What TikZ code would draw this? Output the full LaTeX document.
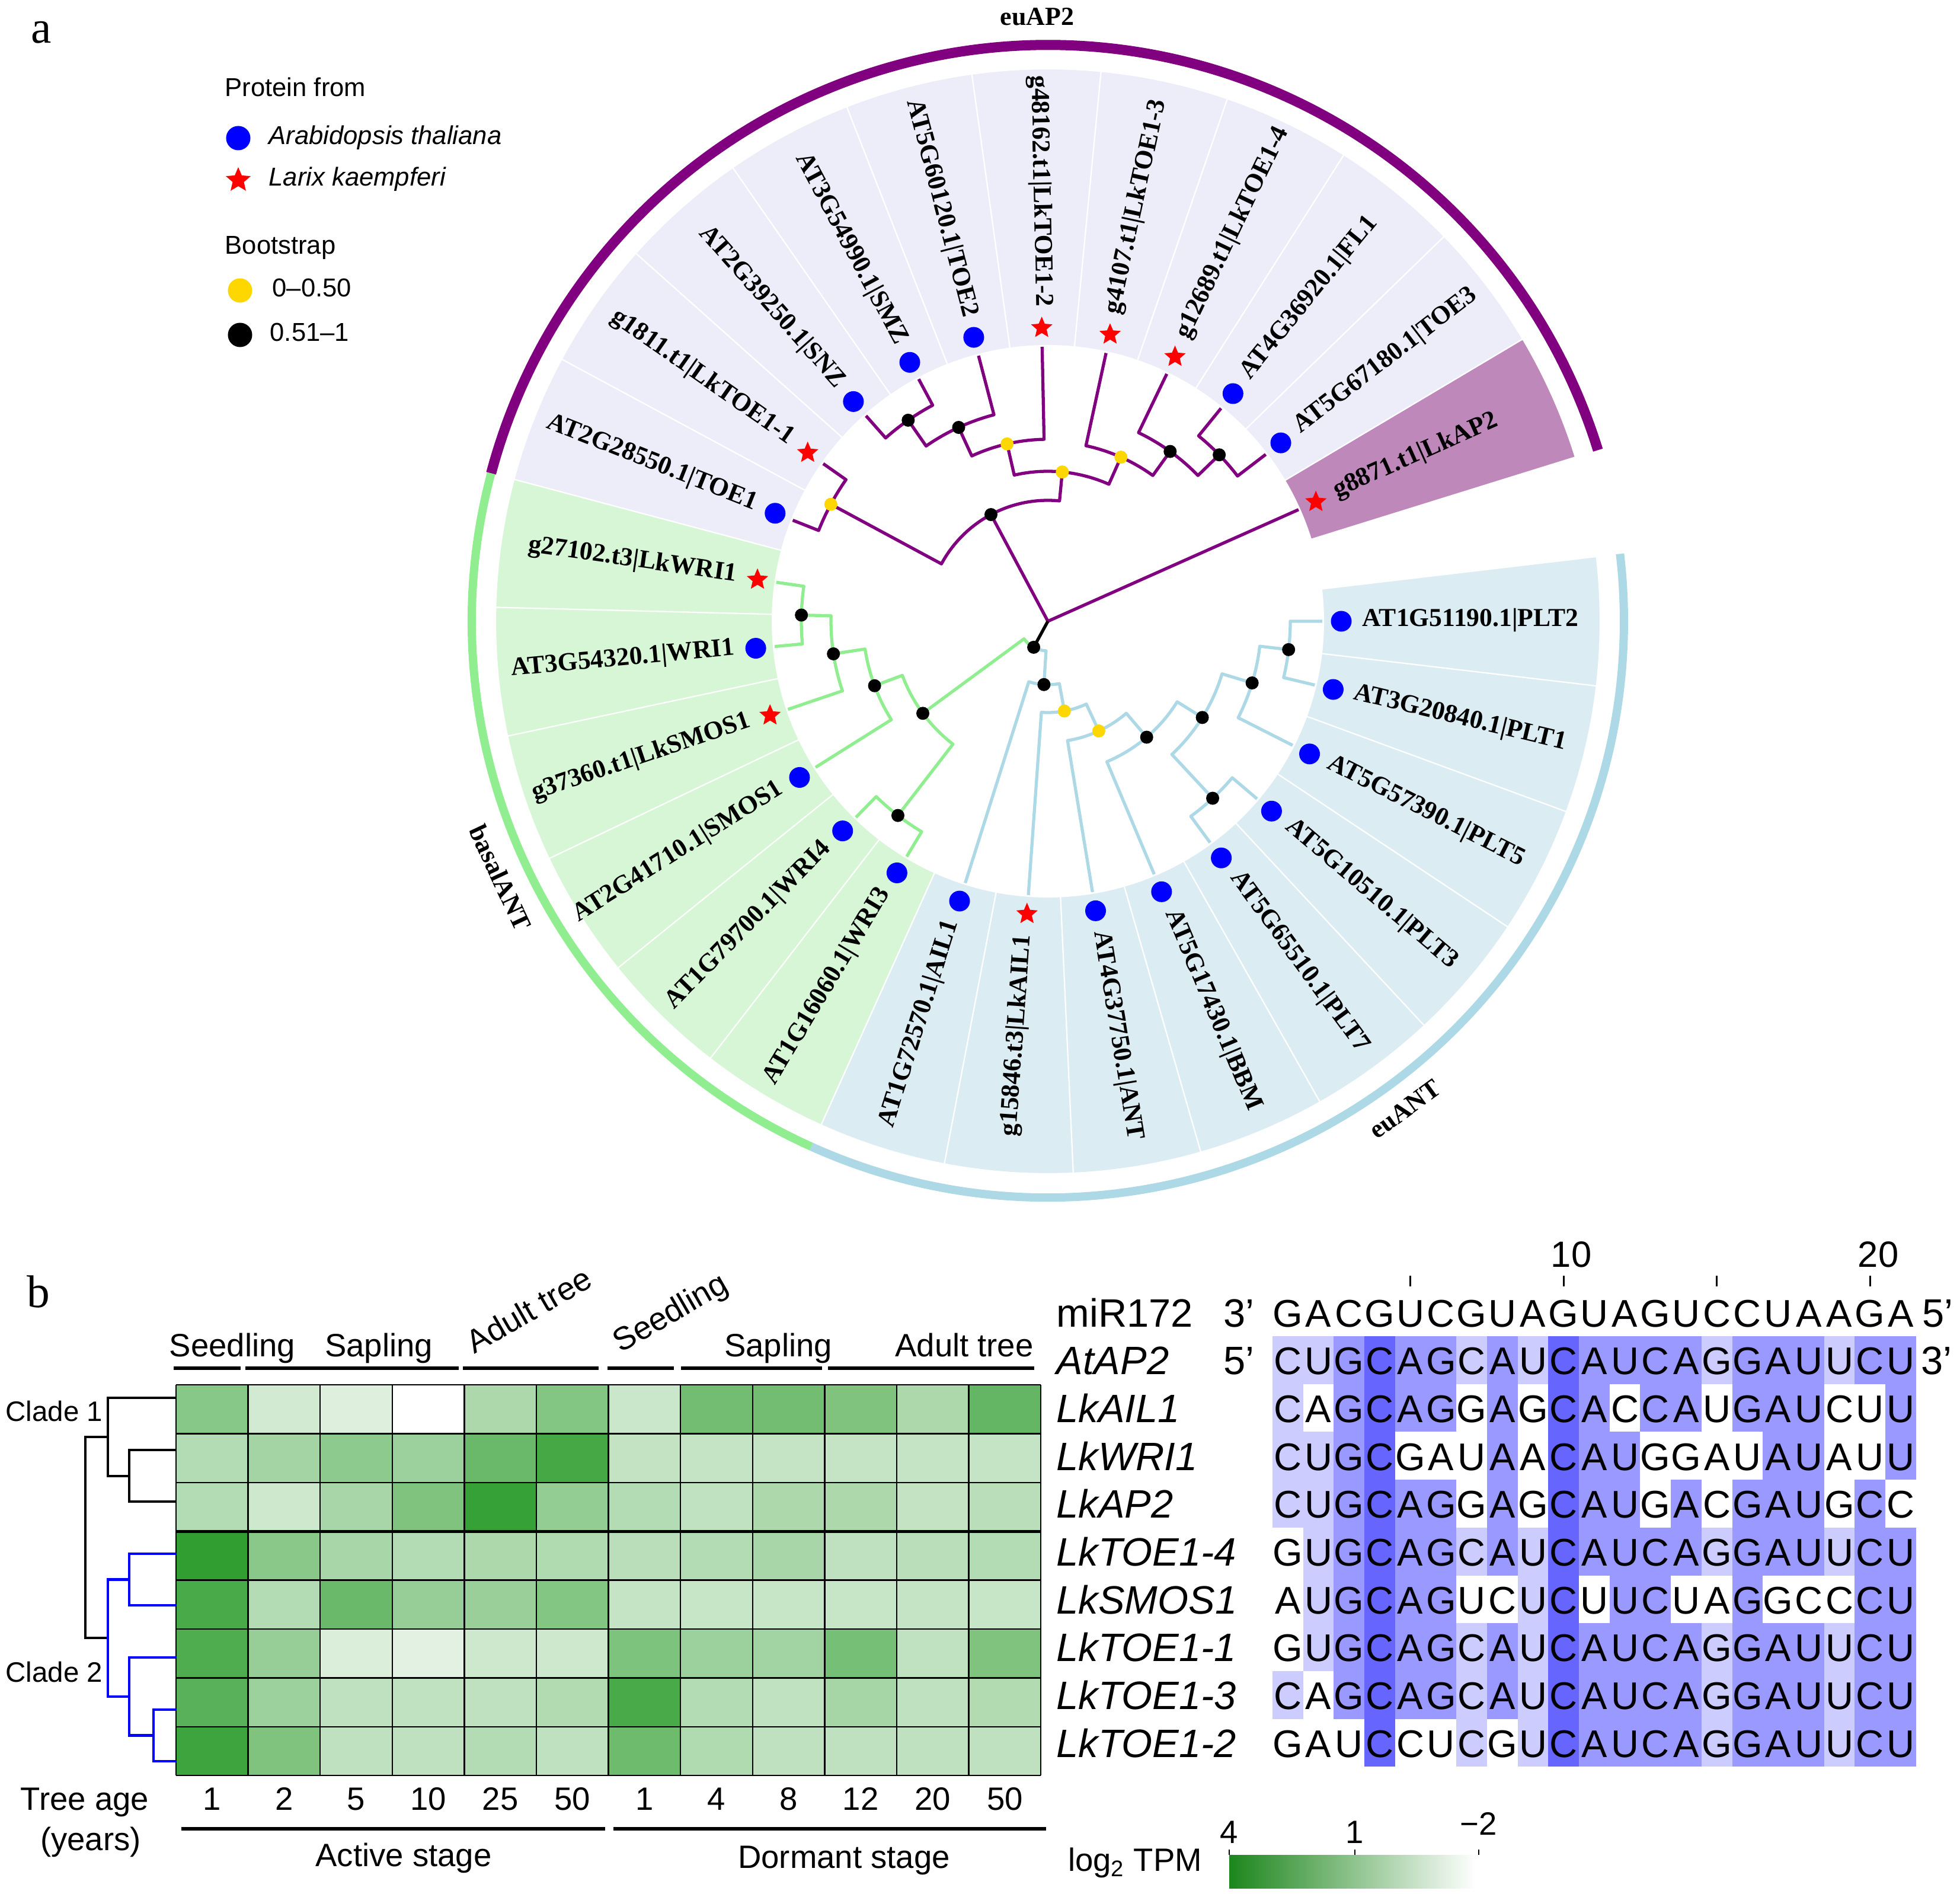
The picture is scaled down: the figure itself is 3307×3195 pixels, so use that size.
\documentclass[tikz,border=0pt]{standalone}
\usepackage{fontspec}
\setmainfont{Liberation Serif}
\setsansfont{Liberation Sans}
\usepackage{tikz}
\usetikzlibrary{shapes.geometric,positioning}
\definecolor{apcol}{RGB}{128,0,128}
\definecolor{basalcol}{RGB}{144,238,144}
\definecolor{eucol}{RGB}{173,216,230}
\definecolor{apbg}{RGB}{237,237,250}
\definecolor{basalbg}{RGB}{214,246,214}
\definecolor{eubg}{RGB}{220,236,243}
\definecolor{lkapbg}{RGB}{191,136,187}
\definecolor{bootlow}{RGB}{255,215,0}
\definecolor{hmdark}{RGB}{48,158,48}
\definecolor{cbdark}{RGB}{28,134,28}
\definecolor{cbmid}{RGB}{128,198,128}
\definecolor{alnL}{RGB}{204,204,255}
\definecolor{alnM}{RGB}{153,153,255}
\definecolor{alnD}{RGB}{102,102,255}
\definecolor{alnW}{RGB}{255,255,255}

\begin{document}
\begin{tikzpicture}[x=0.01cm, y=0.01cm,
  atdot/.style={circle, fill=blue, inner sep=0pt, minimum size=0.35cm},
  lkstar/.style={star, star points=5, star point ratio=2.2, fill=red, inner sep=0pt, minimum size=0.38cm},
  bsblack/.style={circle, fill=black, inner sep=0pt, minimum size=0.22cm},
  bsyellow/.style={circle, fill=bootlow, inner sep=0pt, minimum size=0.22cm},
  leaflab/.style={font=\fontsize{12.4}{14}\selectfont\bfseries, inner sep=0pt},
  cladelab/.style={font=\fontsize{12.5}{14}\selectfont\bfseries, inner sep=0pt},
  legtext/.style={font=\sffamily\fontsize{12.4}{14}\selectfont, inner sep=0pt, anchor=base west},
  legit/.style={font=\sffamily\itshape\fontsize{12.4}{14}\selectfont, inner sep=0pt, anchor=base west},
  hmtext/.style={font=\sffamily\fontsize{15.5}{18}\selectfont, inner sep=0pt, anchor=base},
  alntext/.style={font=\sffamily\fontsize{19}{22}\selectfont, inner sep=0pt, anchor=base},
  seqtext/.style={font=\sffamily\fontsize{18.5}{22}\selectfont, inner sep=0pt, anchor=base},
  branch/.style={line width=1.5pt, line join=round},
  dendro/.style={line width=1.2pt, line join=miter},
  hmline/.style={line width=0.7pt},
  bar/.style={line width=1.5pt}]
\useasboundingbox (0,0) rectangle (3307,-3195);

\node[font=\fontsize{22}{26}\selectfont, anchor=base west, inner sep=0pt] (panela) at (52,-73) {a};
\node[font=\fontsize{22}{26}\selectfont, anchor=base west, inner sep=0pt] (panelb) at (45,-2205) {b};

\node[legtext] (legprot) at (379,-163) {Protein from};
\node[atdot, minimum size=0.41cm] (legat) at (402,-233) {};
\node[legit] (legattext) at (453,-244) {Arabidopsis thaliana};
\node[lkstar, minimum size=0.44cm] (leglk) at (402,-304) {};
\node[legit] (leglktext) at (453,-314) {Larix kaempferi};
\node[legtext] (legboot) at (379,-429) {Bootstrap};
\node[bsyellow, minimum size=0.41cm] (leglow) at (405,-490) {};
\node[legtext] (leglowtext) at (459,-501) {0--0.50};
\node[bsblack, minimum size=0.41cm] (leghigh) at (405,-565) {};
\node[legtext] (leghightext) at (455,-576) {0.51--1};

\begin{scope}[shift={(1768,-1048)}]
\foreach \i/\bg/\at/\lab in {0/lkapbg/0/g8871.t1|LkAP2, 1/apbg/1/AT5G67180.1|TOE3, 2/apbg/1/AT4G36920.1|FL1,
  3/apbg/0/g12689.t1|LkTOE1-4, 4/apbg/0/g4107.t1|LkTOE1-3, 5/apbg/0/g48162.t1|LkTOE1-2,
  6/apbg/1/AT5G60120.1|TOE2, 7/apbg/1/AT3G54990.1|SMZ, 8/apbg/1/AT2G39250.1|SNZ,
  9/apbg/0/g1811.t1|LkTOE1-1, 10/apbg/1/AT2G28550.1|TOE1, 11/basalbg/0/g27102.t3|LkWRI1,
  12/basalbg/1/AT3G54320.1|WRI1, 13/basalbg/0/g37360.t1|LkSMOS1, 14/basalbg/1/AT2G41710.1|SMOS1,
  15/basalbg/1/AT1G79700.1|WRI4, 16/basalbg/1/AT1G16060.1|WRI3, 17/eubg/1/AT1G72570.1|AIL1,
  18/eubg/0/g15846.t3|LkAIL1, 19/eubg/1/AT4G37750.1|ANT, 20/eubg/1/AT5G17430.1|BBM,
  21/eubg/1/AT5G65510.1|PLT7, 22/eubg/1/AT5G10510.1|PLT3, 23/eubg/1/AT5G57390.1|PLT5,
  24/eubg/1/AT3G20840.1|PLT1, 25/eubg/1/AT1G51190.1|PLT2} {
  \pgfmathsetmacro\a{24+13.44*\i}
  \fill[fill=\bg, draw=white, line width=0.6pt] (\a-6.72:465) arc[start angle=\a-6.72, end angle=\a+6.72, radius=465]
    -- (\a+6.72:932) arc[start angle=\a+6.72, end angle=\a-6.72, radius=932] -- cycle;
  \coordinate (tip\i) at (\a:463);
  \ifnum\at=1 \node[atdot] (mark\i) at (\a:495) {}; \else \node[lkstar] (mark\i) at (\a:495) {}; \fi
  \pgfmathtruncatemacro\flip{(\a>90)&&(\a<270)}
  \ifnum\flip=1
    \node[leaflab, rotate=\a+180, anchor=mid east] (lab\i) at (\a:530) {\lab};
  \else
    \node[leaflab, rotate=\a, anchor=mid west] (lab\i) at (\a:530) {\lab};
  \fi
}

\draw[apcol, line width=0.17cm] (17.28:972) arc[start angle=17.28, end angle=165.12, radius=972];
\draw[basalcol, line width=0.14cm] (165.12:972) arc[start angle=165.12, end angle=245.76, radius=972];
\draw[eucol, line width=0.14cm] (245.76:972) arc[start angle=245.76, end angle=366.72, radius=972];
\node[cladelab] (ringap) at (91:1020) {euAP2};
\node[cladelab, rotate=-64.9] (ringbasal) at (205.1:1020) {basalANT};
\node[cladelab, rotate=36.2] (ringeu) at (306.2:1020) {euANT};

\coordinate (root) at (0,0);
\coordinate (nA) at (118.08:204);
\coordinate (nB) at (84.48:253);
\coordinate (nC) at (102.96:307);
\coordinate (nD) at (114.72:360);
\coordinate (nE) at (124.8:413);
\coordinate (nF) at (66:303);
\coordinate (nG) at (54.24:353);
\coordinate (nH) at (44.16:403);
\coordinate (nP) at (151.68:416);
\coordinate (nANT) at (241.4:50);
\coordinate (nW1) at (178.56:416);
\coordinate (nW2) at (188.64:366);
\coordinate (nW3) at (200.4:312);
\coordinate (nW4) at (232.32:414);
\coordinate (nW5) at (216.36:262);
\coordinate (nU1) at (266.45:107);
\coordinate (nU2) at (280.41:154);
\coordinate (nU3) at (294.9:204);
\coordinate (nU4) at (310.44:257);
\coordinate (nU5) at (328.08:307);
\coordinate (nU6) at (312.96:408);
\coordinate (nU7) at (343.2:360);
\coordinate (nU8) at (353.28:409);

\draw[branch, apcol] (root) -- (nA);
\draw[branch, apcol] (root) -- (tip0);
\draw[branch, apcol] (nA) arc[start angle=118.08, end angle=84.48, radius=204] -- (nB);
\draw[branch, apcol] (nA) arc[start angle=118.08, end angle=151.68, radius=204] -- (nP);
\draw[branch, apcol] (nB) arc[start angle=84.48, end angle=102.96, radius=253] -- (nC);
\draw[branch, apcol] (nB) arc[start angle=84.48, end angle=66, radius=253] -- (nF);
\draw[branch, apcol] (nC) arc[start angle=102.96, end angle=91.2, radius=307] -- (tip5);
\draw[branch, apcol] (nC) arc[start angle=102.96, end angle=114.72, radius=307] -- (nD);
\draw[branch, apcol] (nD) arc[start angle=114.72, end angle=104.64, radius=360] -- (tip6);
\draw[branch, apcol] (nD) arc[start angle=114.72, end angle=124.8, radius=360] -- (nE);
\draw[branch, apcol] (nE) arc[start angle=124.8, end angle=118.08, radius=413] -- (tip7);
\draw[branch, apcol] (nE) arc[start angle=124.8, end angle=131.52, radius=413] -- (tip8);
\draw[branch, apcol] (nF) arc[start angle=66, end angle=77.76, radius=303] -- (tip4);
\draw[branch, apcol] (nF) arc[start angle=66, end angle=54.24, radius=303] -- (nG);
\draw[branch, apcol] (nG) arc[start angle=54.24, end angle=64.32, radius=353] -- (tip3);
\draw[branch, apcol] (nG) arc[start angle=54.24, end angle=44.16, radius=353] -- (nH);
\draw[branch, apcol] (nH) arc[start angle=44.16, end angle=50.88, radius=403] -- (tip2);
\draw[branch, apcol] (nH) arc[start angle=44.16, end angle=37.44, radius=403] -- (tip1);
\draw[branch, apcol] (nP) arc[start angle=151.68, end angle=144.96, radius=416] -- (tip9);
\draw[branch, apcol] (nP) arc[start angle=151.68, end angle=158.4, radius=416] -- (tip10);
\draw[branch] (root) -- (nANT);
\draw[branch, basalcol] (nANT) arc[start angle=241.4, end angle=216.36, radius=50] -- (nW5);
\draw[branch, basalcol] (nW5) arc[start angle=216.36, end angle=200.4, radius=262] -- (nW3);
\draw[branch, basalcol] (nW5) arc[start angle=216.36, end angle=232.32, radius=262] -- (nW4);
\draw[branch, basalcol] (nW3) arc[start angle=200.4, end angle=188.64, radius=312] -- (nW2);
\draw[branch, basalcol] (nW3) arc[start angle=200.4, end angle=212.16, radius=312] -- (tip14);
\draw[branch, basalcol] (nW2) arc[start angle=188.64, end angle=178.56, radius=366] -- (nW1);
\draw[branch, basalcol] (nW2) arc[start angle=188.64, end angle=198.72, radius=366] -- (tip13);
\draw[branch, basalcol] (nW1) arc[start angle=178.56, end angle=171.84, radius=416] -- (tip11);
\draw[branch, basalcol] (nW1) arc[start angle=178.56, end angle=185.28, radius=416] -- (tip12);
\draw[branch, basalcol] (nW4) arc[start angle=232.32, end angle=225.6, radius=414] -- (tip15);
\draw[branch, basalcol] (nW4) arc[start angle=232.32, end angle=239.04, radius=414] -- (tip16);
\draw[branch, eucol] (nANT) arc[start angle=241.4, end angle=266.45, radius=50] -- (nU1);
\draw[branch, eucol] (nU1) arc[start angle=266.45, end angle=252.48, radius=107] -- (tip17);
\draw[branch, eucol] (nU1) arc[start angle=266.45, end angle=280.41, radius=107] -- (nU2);
\draw[branch, eucol] (nU2) arc[start angle=280.41, end angle=265.92, radius=154] -- (tip18);
\draw[branch, eucol] (nU2) arc[start angle=280.41, end angle=294.9, radius=154] -- (nU3);
\draw[branch, eucol] (nU3) arc[start angle=294.9, end angle=279.36, radius=204] -- (tip19);
\draw[branch, eucol] (nU3) arc[start angle=294.9, end angle=310.44, radius=204] -- (nU4);
\draw[branch, eucol] (nU4) arc[start angle=310.44, end angle=292.8, radius=257] -- (tip20);
\draw[branch, eucol] (nU4) arc[start angle=310.44, end angle=328.08, radius=257] -- (nU5);
\draw[branch, eucol] (nU5) arc[start angle=328.08, end angle=312.96, radius=307] -- (nU6);
\draw[branch, eucol] (nU5) arc[start angle=328.08, end angle=343.2, radius=307] -- (nU7);
\draw[branch, eucol] (nU6) arc[start angle=312.96, end angle=306.24, radius=408] -- (tip21);
\draw[branch, eucol] (nU6) arc[start angle=312.96, end angle=319.68, radius=408] -- (tip22);
\draw[branch, eucol] (nU7) arc[start angle=343.2, end angle=333.12, radius=360] -- (tip23);
\draw[branch, eucol] (nU7) arc[start angle=343.2, end angle=353.28, radius=360] -- (nU8);
\draw[branch, eucol] (nU8) arc[start angle=353.28, end angle=346.56, radius=409] -- (tip24);
\draw[branch, eucol] (nU8) arc[start angle=353.28, end angle=360, radius=409] -- (tip25);

\foreach \n in {nB,nC,nF,nP,nU2,nU3} \node[bsyellow] (dot\n) at (\n) {};
\foreach \n in {nA,nD,nE,nG,nH,nANT,nW1,nW2,nW3,nW4,nW5,nU1,nU4,nU5,nU6,nU7,nU8} \node[bsblack] (dot\n) at (\n) {};
\end{scope}

\foreach \row [count=\r from 0] in {{58,22,16,0,40,60,25,68,68,62,40,75},{36,44,55,48,72,90,29,28,28,28,28,28},
  {36,24,42,62,97,52,36,30,40,40,29,34},{100,57,42,36,40,38,34,36,42,31,34,36},
  {88,36,72,50,49,60,28,27,27,27,28,27},{85,50,18,14,24,24,63,48,45,66,30,62},
  {80,48,31,30,31,37,88,36,30,43,31,37},{93,62,31,31,36,31,70,38,31,31,31,31}} {
  \foreach \v [count=\c from 0] in \row {
    \fill[fill=hmdark!\v!white] (297+121.6*\c,-2336-82.4*\r) rectangle ++(121.6,-82.4);
  }
}
\foreach \c in {0,...,12} \draw[hmline] (297+121.6*\c,-2336) -- (297+121.6*\c,-2995.2);
\foreach \r in {0,...,8} \draw[hmline] (297,-2336-82.4*\r) -- (1756.2,-2336-82.4*\r);
\draw[line width=1.4pt] (297,-2583.2) -- (1756.2,-2583.2);

\draw[dendro] (297,-2358) -- (182,-2358) -- (182,-2490) -- (218,-2490);
\draw[dendro] (297,-2446) -- (218,-2446) -- (218,-2533) -- (297,-2533);
\draw[dendro] (182,-2424) -- (144,-2424) -- (144,-2763) -- (182,-2763);
\draw[dendro, blue] (218,-2664.5) -- (182,-2664.5) -- (182,-2862) -- (218,-2862);
\draw[dendro, blue] (297,-2621) -- (218,-2621) -- (218,-2708) -- (297,-2708);
\draw[dendro, blue] (297,-2796) -- (218,-2796) -- (218,-2927.5) -- (259,-2927.5);
\draw[dendro, blue] (297,-2884) -- (259,-2884) -- (259,-2971) -- (297,-2971);
\node[font=\sffamily\fontsize{13.5}{16}\selectfont, anchor=base west, inner sep=0pt] (clade1) at (9,-2397) {Clade 1};
\node[font=\sffamily\fontsize{13.5}{16}\selectfont, anchor=base west, inner sep=0pt] (clade2) at (9,-2837) {Clade 2};

\node[hmtext] (seedA) at (392,-2288) {Seedling};
\node[hmtext] (saplA) at (639,-2288) {Sapling};
\node[hmtext, anchor=base west, rotate=30] (adultA) at (800,-2285) {Adult tree};
\node[hmtext, anchor=base west, rotate=30] (seedD) at (1047,-2283) {Seedling};
\node[hmtext] (saplD) at (1313,-2288) {Sapling};
\node[hmtext] (adultD) at (1627,-2288) {Adult tree};
\draw[bar] (293,-2308) -- (406,-2308);
\draw[bar] (414,-2308) -- (774,-2308);
\draw[bar] (781,-2308) -- (1010,-2308);
\draw[bar] (1025,-2308) -- (1137,-2308);
\draw[bar] (1149,-2308) -- (1387,-2308);
\draw[bar] (1397,-2308) -- (1745,-2308);

\node[hmtext] (agelab) at (143,-3053) {Tree age};
\node[hmtext] (yrlab) at (153,-3121) {(years)};
\foreach \n [count=\c from 0] in {1,2,5,10,25,50,1,4,8,12,20,50}
  \node[hmtext] (age\c) at (357.8+121.6*\c,-3053) {\n};
\draw[bar] (306,-3085) -- (1021,-3085);
\draw[bar] (1035,-3085) -- (1765,-3085);
\node[hmtext] (actlab) at (681,-3148) {Active stage};
\node[hmtext] (dorlab) at (1424,-3151) {Dormant stage};

\foreach \nm [count=\r from 0] in {miR172,\textit{AtAP2},\textit{LkAIL1},\textit{LkWRI1},\textit{LkAP2},\textit{LkTOE1-4},
  \textit{LkSMOS1},\textit{LkTOE1-1},\textit{LkTOE1-3},\textit{LkTOE1-2}}
  \node[alntext, anchor=base west] (name\r) at (1782,-2238-80.7*\r) {\nm};
\foreach \ch [count=\k from 0] in {G,A,C,G,U,C,G,U,A,G,U,A,G,U,C,C,U,A,A,G,A}
  \node[seqtext] (mir\k) at (2172.85+51.7*\k,-2238) {\ch};
\foreach \seq [count=\r from 0] in {
  {C/L,U/L,G/M,C/D,A/M,G/M,C/L,A/M,U/L,C/D,A/M,U/M,C/M,A/M,G/L,G/M,A/M,U/M,U/L,C/M,U/M},
  {C/L,A/W,G/M,C/D,A/M,G/M,G/W,A/M,G/W,C/D,A/M,C/W,C/M,A/M,U/W,G/M,A/M,U/M,C/W,U/W,U/M},
  {C/L,U/L,G/M,C/D,G/W,A/W,U/W,A/M,A/W,C/D,A/M,U/M,G/W,G/W,A/W,U/W,A/M,U/M,A/W,U/W,U/M},
  {C/L,U/L,G/M,C/D,A/M,G/M,G/W,A/M,G/W,C/D,A/M,U/M,G/W,A/M,C/W,G/M,A/M,U/M,G/W,C/M,C/W},
  {G/W,U/L,G/M,C/D,A/M,G/M,C/L,A/M,U/L,C/D,A/M,U/M,C/M,A/M,G/L,G/M,A/M,U/M,U/L,C/M,U/M},
  {A/W,U/L,G/M,C/D,A/M,G/M,U/W,C/W,U/L,C/D,U/W,U/M,C/M,U/W,A/W,G/M,G/W,C/W,C/W,C/M,U/M},
  {G/W,U/L,G/M,C/D,A/M,G/M,C/L,A/M,U/L,C/D,A/M,U/M,C/M,A/M,G/L,G/M,A/M,U/M,U/L,C/M,U/M},
  {C/L,A/W,G/M,C/D,A/M,G/M,C/L,A/M,U/L,C/D,A/M,U/M,C/M,A/M,G/L,G/M,A/M,U/M,U/L,C/M,U/M},
  {G/W,A/W,U/W,C/D,C/W,U/W,C/L,G/W,U/L,C/D,A/M,U/M,C/M,A/M,G/L,G/M,A/M,U/M,U/L,C/M,U/M}} {
  \foreach \ch/\lev [count=\k from 0] in \seq {
    \fill[fill=aln\lev] (2147+51.7*\k,-2254-80.7*\r) rectangle ++(51.7,-80.7);
    \node[seqtext] (seq\r-\k) at (2172.85+51.7*\k,-2318.7-80.7*\r) {\ch};
  }
}
\node[alntext] (mirthree) at (2090,-2238) {3’};
\node[alntext] (mirfive) at (3269,-2238) {5’};
\node[alntext] (atfive) at (2090,-2318.7) {5’};
\node[alntext] (atthree) at (3267,-2318.7) {3’};
\foreach \t in {4.5,9.5,14.5,19.5} \draw[line width=0.8pt] (2147+51.7*\t,-2152) -- (2147+51.7*\t,-2170);
\node[font=\sffamily\fontsize{17.5}{20}\selectfont, inner sep=0pt] (tickten) at (2651,-2116) {10};
\node[font=\sffamily\fontsize{17.5}{20}\selectfont, inner sep=0pt] (ticktwenty) at (3169,-2116) {20};

\shade[left color=cbdark, middle color=cbmid, right color=white] (2074,-3129) rectangle (2490,-3185);
\foreach \x in {2074,2286,2495} \draw[line width=0.8pt] (\x,-3120) -- (\x,-3129);
\node[hmtext, anchor=center] (cbfour) at (2074,-3091) {4};
\node[hmtext, anchor=center] (cbone) at (2286,-3091) {1};
\node[hmtext, anchor=center] (cbtwo) at (2495,-3076) {−2};
\node[hmtext, anchor=center] (cblab) at (1915,-3142) {log\textsubscript{2} TPM};
\end{tikzpicture}
\end{document}
